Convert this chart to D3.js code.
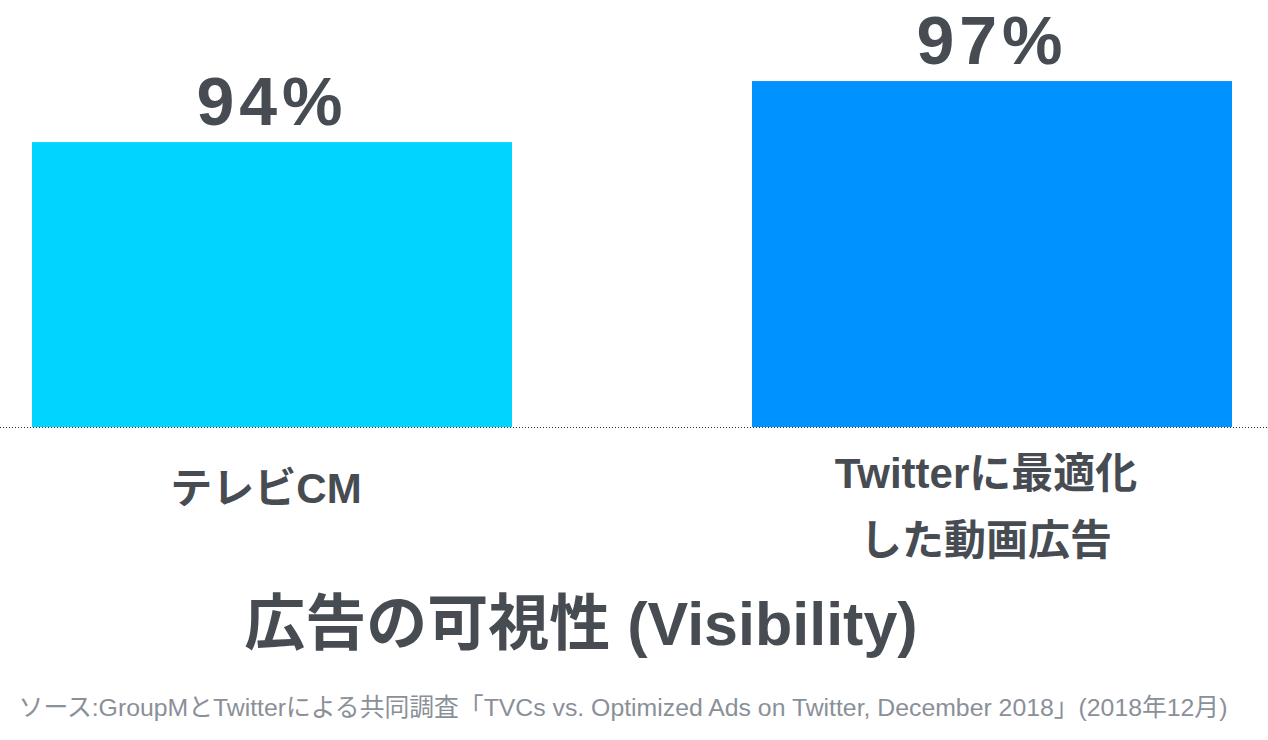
<!DOCTYPE html>
<html>
<head>
<meta charset="utf-8">
<script src="https://cdn.jsdelivr.net/npm/d3@7"></script>
<style>
  body { margin: 0; background: #fff; }
  svg { display: block; }
</style>
</head>
<body>
<div id="chart"></div>
<script>
const categories = [["テレビCM"], ["Twitterに最適化", "した動画広告"]];
const values = [94, 97];
const barColors = ["#00d4ff", "#0093ff"];
const title = "広告の可視性 (Visibility)";
const source = "ソース:GroupMとTwitterによる共同調査「TVCs vs. Optimized Ads on Twitter, December 2018」(2018年12月)";

const width = 1268, height = 740;
const baseY = 427;
const textColor = "#474c53";
const font = "'Liberation Sans', 'Noto Sans CJK JP', sans-serif";

const svg = d3.select("#chart").append("svg")
    .attr("width", width)
    .attr("height", height);

const x = d3.scaleBand()
    .domain(d3.range(values.length))
    .range([32, 1232])
    .paddingInner(1 / 3);

// the axis does not start at zero
const y = d3.scaleLinear()
    .domain([80, 100])
    .range([baseY, 20]);

svg.append("g")
    .selectAll("rect")
    .data(values)
    .enter().append("rect")
    .attr("x", (d, i) => x(i))
    .attr("y", d => y(d))
    .attr("width", x.bandwidth())
    .attr("height", d => baseY - y(d))
    .attr("fill", (d, i) => barColors[i]);

// dotted baseline
svg.append("line")
    .attr("x1", 0).attr("x2", width)
    .attr("y1", baseY + 0.5).attr("y2", baseY + 0.5)
    .attr("stroke", "#333")
    .attr("stroke-width", 1)
    .attr("stroke-dasharray", "1 2");

// value labels
svg.append("g")
    .selectAll("text")
    .data(values)
    .enter().append("text")
    .attr("x", (d, i) => x(i) + x.bandwidth() / 2)
    .attr("y", d => y(d) - 17)
    .attr("text-anchor", "middle")
    .attr("fill", textColor)
    .style("font-family", font)
    .style("font-weight", "bold")
    .style("font-size", "68px")
    .style("letter-spacing", "5px")
    .text(d => d + "%");

// category labels
const catG = svg.append("g")
    .selectAll("text")
    .data(categories)
    .enter().append("text")
    .attr("text-anchor", "middle")
    .attr("fill", textColor)
    .style("font-family", font)
    .style("font-weight", "bold")
    .style("font-size", "42px")
    .attr("transform", (d, i) => `translate(${x(i) + x.bandwidth() / 2 - 6}, ${d.length > 1 ? 488 : 503})`);

catG.selectAll("tspan")
    .data(d => d)
    .enter().append("tspan")
    .attr("x", 0)
    .attr("dy", (d, i) => i ? 67 : 0)
    .text(d => d);

svg.append("text")
    .attr("x", 581)
    .attr("y", 645)
    .attr("text-anchor", "middle")
    .attr("fill", textColor)
    .style("font-family", font)
    .style("font-weight", "bold")
    .style("font-size", "61px")
    .text(title);

svg.append("text")
    .attr("x", 623)
    .attr("y", 716)
    .attr("text-anchor", "middle")
    .attr("fill", "#8a9098")
    .style("font-family", font)
    .style("font-size", "24.8px")
    .text(source);
</script>
</body>
</html>
